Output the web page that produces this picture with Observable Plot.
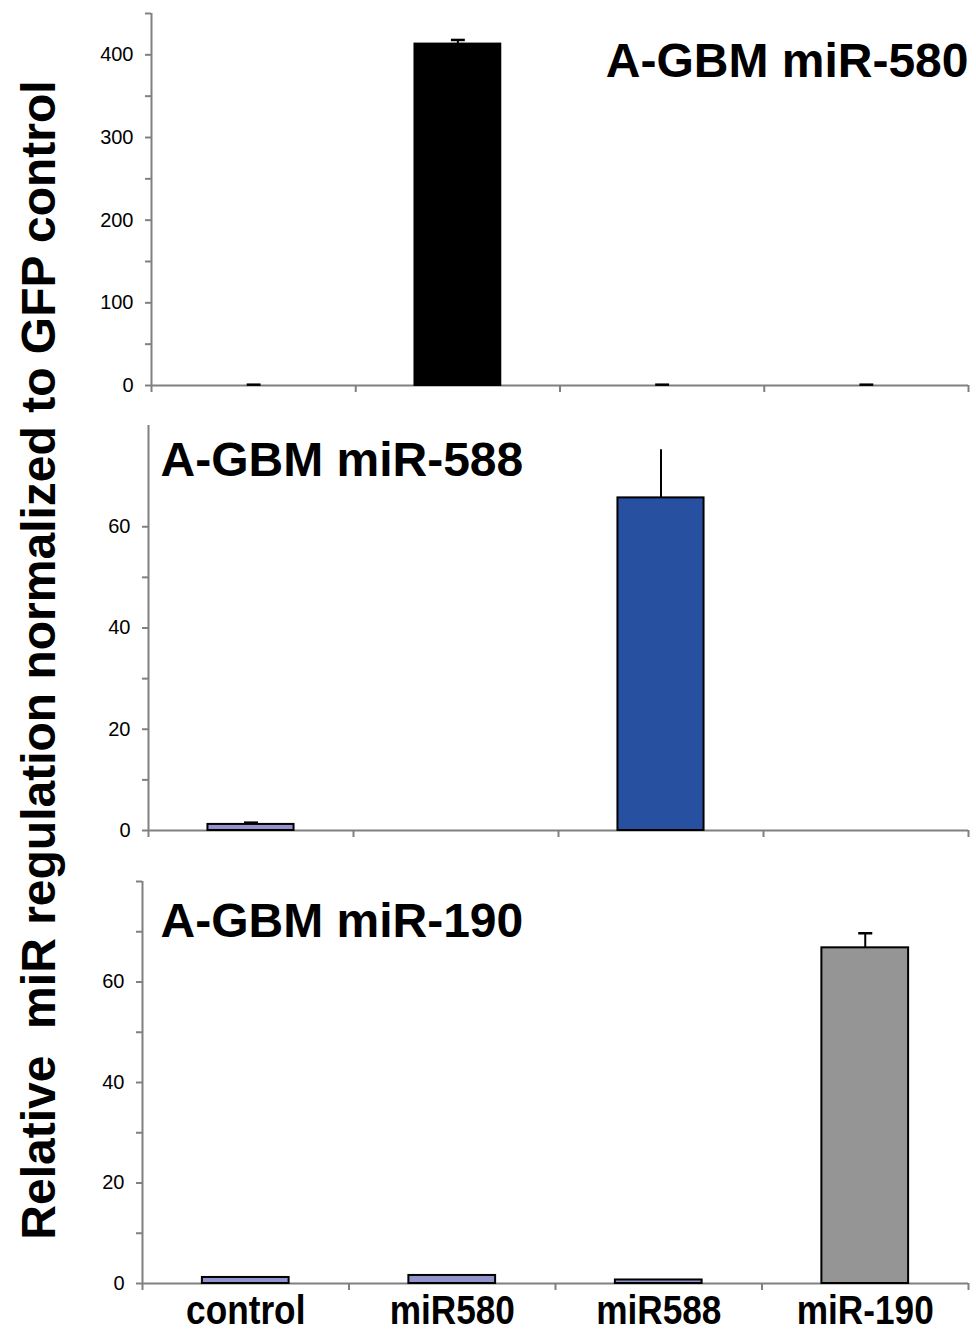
<!DOCTYPE html>
<html>
<head>
<meta charset="utf-8">
<script src="https://cdn.jsdelivr.net/npm/d3@7"></script>
<script src="https://cdn.jsdelivr.net/npm/@observablehq/plot@0.6"></script>
<style>
  html, body { margin: 0; padding: 0; background: white; }
  #wrap { position: relative; width: 976px; height: 1334px; overflow: hidden; font-family: "Liberation Sans", Arial, sans-serif; }
  .panel { position: absolute; left: 0; }
  #ylabel { position: absolute; left: 39px; top: 660px; transform: translate(-50%, -50%) rotate(-90deg);
    white-space: pre; font-size: 48px; font-weight: bold; line-height: 1; color: black; z-index: 10; }
</style>
</head>
<body>
<div id="wrap">
  <div id="p1" class="panel" style="top:0px"></div>
  <div id="p2" class="panel" style="top:410px"></div>
  <div id="p3" class="panel" style="top:845px"></div>
  <div id="ylabel"></div>
</div>
<script>
// ---- data ----
const categories = ["control", "miR580", "miR588", "miR-190"];
const yAxisLabel = "Relative  miR regulation normalized to GFP control";

const titles = ["A-GBM miR-580", "A-GBM miR-588", "A-GBM miR-190"];

const valuesMiR580 = [0, 413, 0, 0];
const errorsMiR580 = [1, 5, 1, 1];

const valuesMiR588 = [1.2, 0, 65.7, 0];
const errorsMiR588 = [0.35, 0, 9.5, 0];

const valuesMiR190 = [1.2, 1.6, 0.7, 66.8];
const errorsMiR190 = [0, 0, 0, 2.9];

const yMax = [450, 80, 80];
const majorTicks = [[0, 100, 200, 300, 400], [0, 20, 40, 60], [0, 20, 40, 60]];
const minorTicks = [[50, 150, 250, 350, 450], [10, 30, 50], [10, 30, 50, 70, 80]];

const colorsMiR580 = ["#000000", "#000000", "#000000", "#000000"];
const colorsMiR588 = ["#9494cc", "#9494cc", "#2850a0", "#9494cc"];
const colorsMiR190 = ["#9494cc", "#9494cc", "#9494cc", "#959595"];

// ---- layout / style ----
const font = "'Liberation Sans', Arial, sans-serif";
const axisGray = "#808080";
const halfBar = 0.21;
const halfCap = 0.034;

const panels = [
  {el: "p1", values: valuesMiR580, errors: errorsMiR580, colors: colorsMiR580, caps: true,
   height: 400, mt: 13, mb: 15, ml: 151, titleAnchor: "top-right", dx: 0, dy: 29, labels: false},
  {el: "p2", values: valuesMiR588, errors: errorsMiR588, colors: colorsMiR588, caps: false,
   height: 435, mt: 15, mb: 15, ml: 148, titleAnchor: "top-left", dx: 12, dy: 16, labels: false},
  {el: "p3", values: valuesMiR190, errors: errorsMiR190, colors: colorsMiR190, caps: true,
   height: 489, mt: 36, mb: 51, ml: 142, titleAnchor: "top-left", dx: 18, dy: 21, labels: true}
];

panels.forEach((p, k) => {
  const rows = categories.map((c, i) => ({
    cat: c, i, center: i + 0.5, value: p.values[i], err: p.errors[i], color: p.colors[i]
  }));
  const bars = rows.filter(d => d.value > 0);
  const errs = rows.filter(d => d.err > 0);
  const capRows = errs.filter(d => p.caps || d.err < 1);
  const marks = [
    Plot.ruleX([0], {y1: 0, y2: yMax[k], stroke: axisGray, strokeWidth: 2}),
    Plot.ruleY([0], {stroke: axisGray, strokeWidth: 2}),
    Plot.rect(bars, {
      x1: d => d.center - halfBar, x2: d => d.center + halfBar,
      y1: 0, y2: "value", fill: "color", stroke: "black", strokeWidth: 2
    }),
    Plot.ruleX(errs, {x: "center", y1: "value", y2: d => d.value + d.err, stroke: "black", strokeWidth: 2}),
    Plot.link(capRows, {
      x1: d => d.center - halfCap, x2: d => d.center + halfCap,
      y1: d => d.value + d.err, y2: d => d.value + d.err, stroke: "black", strokeWidth: 2.5
    }),
    Plot.axisY({ticks: majorTicks[k], tickSize: 6, tickPadding: 12, stroke: axisGray, strokeWidth: 2,
      fill: "black", fontSize: 20, tickFormat: d => String(d), label: null}),
    Plot.axisY({ticks: minorTicks[k], tickSize: 6, stroke: axisGray, strokeWidth: 2,
      tickFormat: () => "", label: null}),
    Plot.axisX({ticks: d3.range(categories.length + 1), tickSize: 7, stroke: axisGray, strokeWidth: 2,
      tickFormat: () => "", label: null}),
    p.labels ? Plot.axisX({ticks: rows.map(d => d.center), tickSize: 0, tickPadding: 12,
      tickFormat: v => categories[Math.floor(v)], fill: "black", fontSize: 40, fontWeight: "bold",
      label: null, className: "catlabels"}) : null,
    Plot.text([titles[k]], {text: d => d, frameAnchor: p.titleAnchor, lineAnchor: "top",
      textAnchor: p.titleAnchor === "top-right" ? "end" : "start", dx: p.dx, dy: p.dy,
      fontSize: 48, fontWeight: "bold", fill: "black"})
  ];
  const chart = Plot.plot({
    width: 976, height: p.height,
    marginTop: p.mt, marginBottom: p.mb, marginLeft: p.ml, marginRight: 8,
    style: {fontFamily: font, background: "transparent", overflow: "visible"},
    x: {type: "linear", domain: [0, categories.length], axis: null},
    y: {domain: [0, yMax[k]], axis: null},
    marks
  });
  document.getElementById(p.el).appendChild(chart);
  if (p.labels) {
    // condense the category labels slightly, like the narrow bold face of the original
    chart.querySelectorAll("g[aria-label='x-axis tick label'] text, .catlabels text").forEach(t => {
      const w = t.getComputedTextLength();
      if (w > 0) {
        t.setAttribute("textLength", (w * 0.88).toFixed(1));
        t.setAttribute("lengthAdjust", "spacingAndGlyphs");
      }
    });
  }
});

document.getElementById("ylabel").textContent = yAxisLabel;
</script>
</body>
</html>
